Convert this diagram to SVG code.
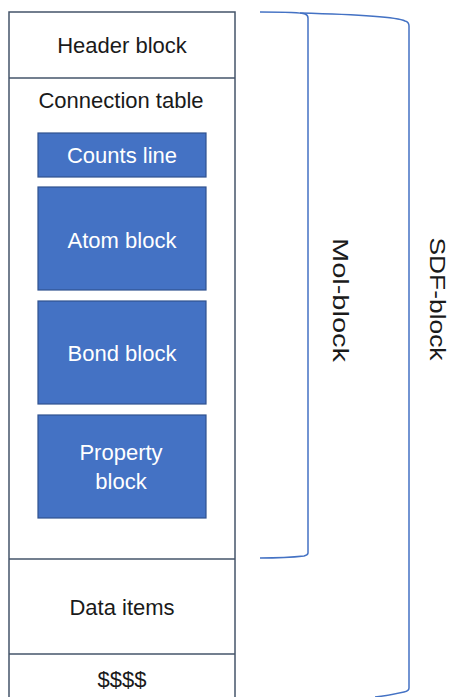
<svg xmlns="http://www.w3.org/2000/svg" width="457" height="697" viewBox="0 0 457 697">
<style>
.frame{fill:#fff;stroke:#44546A;stroke-width:1.5}
.box{fill:#4472C4;stroke:#2F528F;stroke-width:1.2}
.t{font-family:"Liberation Sans",Arial,sans-serif;font-size:22px;fill:#1a1a1a;text-anchor:middle;dominant-baseline:central}
.w{fill:#fff}
.brace{fill:none;stroke:#4472C4;stroke-width:1.5}
</style>
<rect width="457" height="697" fill="#fff"/>
<g id="frame">
<rect class="frame" x="9" y="12" width="226" height="700"/>
</g>
<g id="header"><line class="frame" x1="9" y1="78" x2="235" y2="78"/><text class="t" x="122" y="45">Header block</text></g>
<g id="connection-table"><line class="frame" x1="9" y1="559" x2="235" y2="559"/><text class="t" x="121" y="100">Connection table</text></g>
<g id="counts-line"><rect class="box" x="38" y="133" width="168" height="44"/><text class="t w" x="122" y="155">Counts line</text></g>
<g id="atom-block"><rect class="box" x="38" y="187" width="168" height="103"/><text class="t w" x="122" y="240">Atom block</text></g>
<g id="bond-block"><rect class="box" x="38" y="301" width="168" height="103"/><text class="t w" x="122" y="353">Bond block</text></g>
<g id="property-block"><rect class="box" x="38" y="415" width="168" height="103"/><text class="t w" x="121" y="452">Property</text><text class="t w" x="121" y="481">block</text></g>
<g id="data-items"><line class="frame" x1="9" y1="654" x2="235" y2="654"/><text class="t" x="122" y="607">Data items</text></g>
<g id="terminator"><text class="t" x="122" y="679">$$$$</text></g>
<g id="connectors">
<path class="brace" d="M260,12 C285,12 300,12 305,14 Q308,15 308,18 L308,553 Q308,555 304,556 C295,557 280,558 260,558"/>
<path class="brace" d="M300,13 C340,14 395,16 405,21 Q409,22 409,26 L409,688 Q409,691 404,692 C395,694 385,696 375,697"/>
</g>
<g id="mol-block-label"><text class="t" transform="translate(340,300) rotate(90)" textLength="124" lengthAdjust="spacingAndGlyphs">Mol-block</text></g>
<g id="sdf-block-label"><text class="t" transform="translate(437,299) rotate(90)" textLength="123" lengthAdjust="spacingAndGlyphs">SDF-block</text></g>
</svg>
